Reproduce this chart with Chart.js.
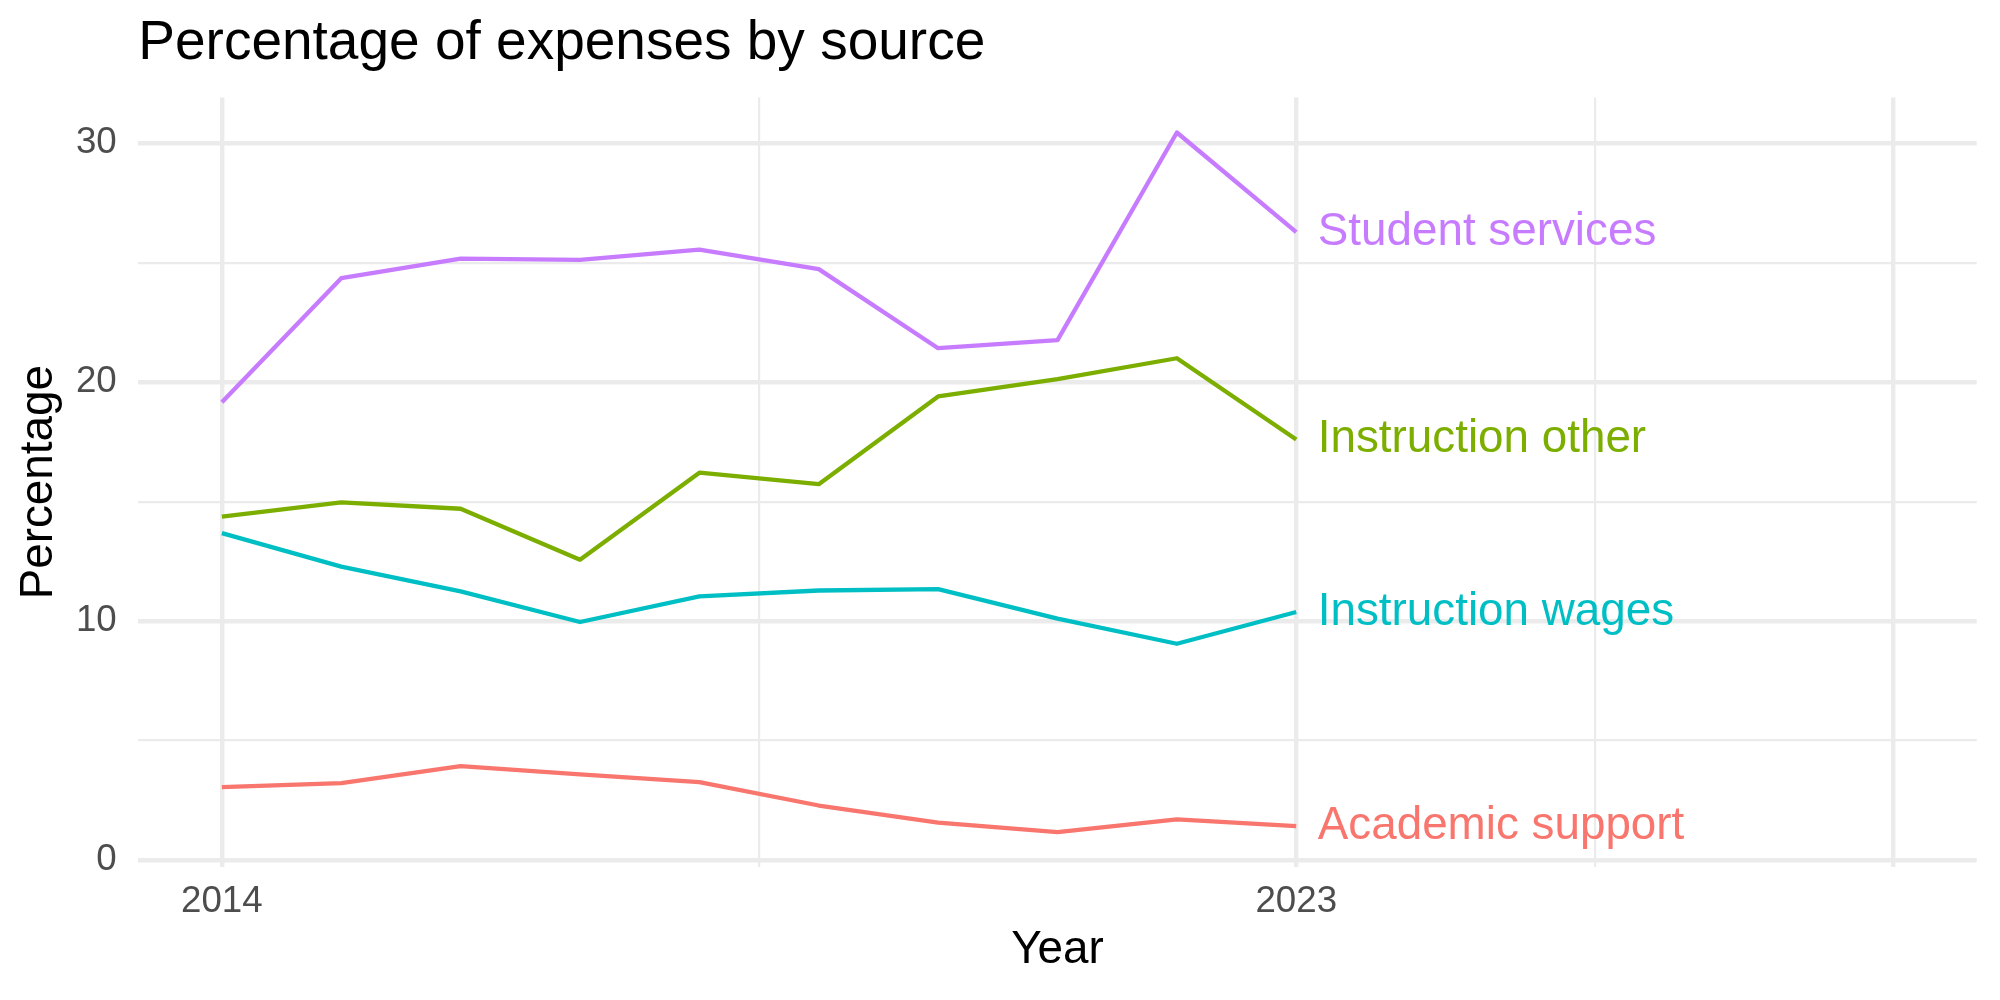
<!DOCTYPE html>
<html>
<head>
<meta charset="utf-8">
<script src="https://cdn.jsdelivr.net/npm/chart.js@4/dist/chart.umd.min.js"></script>
<style>
  html, body { margin: 0; padding: 0; background: #ffffff; }
  #wrap { width: 2000px; height: 1000px; }
</style>
</head>
<body>
<div id="wrap"><canvas id="c" width="2000" height="1000"></canvas></div>
<script>
// ---- data ----
const years = [2014, 2015, 2016, 2017, 2018, 2019, 2020, 2021, 2022, 2023];
const seriesNames = ["Academic support", "Instruction other", "Instruction wages", "Student services"];
const academicSupport  = [3.05, 3.22, 3.93, 3.58, 3.26, 2.28, 1.56, 1.17, 1.70, 1.42];
const instructionOther = [14.37, 14.97, 14.70, 12.57, 16.21, 15.73, 19.40, 20.13, 21.00, 17.60];
const instructionWages = [13.68, 12.28, 11.24, 9.96, 11.03, 11.28, 11.34, 10.10, 9.05, 10.38];
const studentServices  = [19.16, 24.35, 25.17, 25.12, 25.55, 24.73, 21.42, 21.76, 30.45, 26.28];
const seriesColors = ["#F8766D", "#7CAE00", "#00BFC4", "#C77CFF"];

const xMajorBreaks = [2014, 2023, 2028];
const xMinorBreaks = [2018.5, 2025.5];
const xLabelBreaks = [2014, 2023];
const yMajorBreaks = [0, 10, 20, 30];
const yMinorBreaks = [5, 15, 25];
const xLimits = [2014, 2028];

const titleText = "Percentage of expenses by source";
const xTitle = "Year";
const yTitle = "Percentage";

// ---- derived ----
const allSeries = [academicSupport, instructionOther, instructionWages, studentServices];
const allVals = allSeries.flat();
const yLo = Math.min(...allVals), yHi = Math.max(...allVals);
const ySpan = yHi - yLo;
const xSpan = xLimits[1] - xLimits[0];

const FONT = "'Liberation Sans', Arial, Helvetica, sans-serif";
const GRID = "#EBEBEB";
const MAJOR_W = 4.4, MINOR_W = 2.2;

const datasets = allSeries.map((vals, i) => ({
  label: seriesNames[i],
  data: years.map((yr, j) => ({ x: yr, y: vals[j] })),
  borderColor: seriesColors[i],
  backgroundColor: seriesColors[i],
  borderWidth: 4.3,
  pointRadius: 0,
  tension: 0,
  borderJoinStyle: 'round',
  borderCapStyle: 'butt',
  fill: false
}));

const endLabels = {
  id: 'endLabels',
  afterDatasetsDraw(chart) {
    const { ctx, scales: { x, y } } = chart;
    ctx.save();
    ctx.font = `45.8px ${FONT}`;
    ctx.textAlign = 'left';
    ctx.textBaseline = 'middle';
    chart.data.datasets.forEach((ds) => {
      const last = ds.data[ds.data.length - 1];
      ctx.fillStyle = ds.borderColor;
      ctx.fillText(ds.label, x.getPixelForValue(last.x + 0.18), y.getPixelForValue(last.y));
    });
    ctx.restore();
  }
};

const isIn = (arr, v) => arr.some(b => Math.abs(b - v) < 1e-6);

new Chart(document.getElementById('c'), {
  type: 'line',
  data: { datasets },
  options: {
    responsive: false,
    animation: false,
    devicePixelRatio: 1,
    layout: { padding: { top: 0, left: 0, right: 23.3, bottom: 0 } },
    plugins: {
      legend: { display: false },
      tooltip: { enabled: false },
      title: {
        display: true,
        text: titleText,
        align: 'start',
        fullSize: false,
        color: '#000000',
        font: { family: FONT, size: 55, weight: 'normal', lineHeight: 1 },
        padding: { top: 16, bottom: 26.5 }
      }
    },
    scales: {
      x: {
        type: 'linear',
        min: xLimits[0] - 0.05 * xSpan,
        max: xLimits[1] + 0.05 * xSpan,
        border: { display: false },
        grid: {
          color: GRID,
          drawTicks: false,
          lineWidth: (c) => (c.tick && isIn(xMajorBreaks, c.tick.value)) ? MAJOR_W : MINOR_W
        },
        afterBuildTicks: (s) => {
          s.ticks = [...xMajorBreaks, ...xMinorBreaks].sort((a, b) => a - b).map(v => ({ value: v }));
        },
        afterFit: (s) => { s.height = 133; },
        ticks: {
          autoSkip: false,
          maxRotation: 0,
          minRotation: 0,
          padding: 17,
          color: '#4D4D4D',
          font: { family: FONT, size: 36.7, lineHeight: 1 },
          callback: (v) => isIn(xLabelBreaks, v) ? String(v) : ''
        },
        title: {
          display: true,
          text: xTitle,
          color: '#000000',
          font: { family: FONT, size: 45.8, lineHeight: 1 },
          padding: { top: 0, bottom: 26.4 }
        }
      },
      y: {
        type: 'linear',
        min: yLo - 0.05 * ySpan,
        max: yHi + 0.05 * ySpan,
        border: { display: false },
        grid: {
          color: GRID,
          drawTicks: false,
          lineWidth: (c) => (c.tick && isIn(yMajorBreaks, c.tick.value)) ? MAJOR_W : MINOR_W
        },
        afterBuildTicks: (s) => {
          s.ticks = [...yMajorBreaks, ...yMinorBreaks].sort((a, b) => a - b).map(v => ({ value: v }));
        },
        afterFit: (s) => { s.width = 138.3; },
        ticks: {
          autoSkip: false,
          padding: 21.6,
          color: '#4D4D4D',
          font: { family: FONT, size: 36.7, lineHeight: 1 },
          callback: (v) => isIn(yMajorBreaks, v) ? String(v) : ''
        },
        title: {
          display: true,
          text: yTitle,
          color: '#000000',
          font: { family: FONT, size: 45.8, lineHeight: 1 },
          padding: { top: 16, bottom: 0 }
        }
      }
    }
  },
  plugins: [endLabels]
});
</script>
</body>
</html>
